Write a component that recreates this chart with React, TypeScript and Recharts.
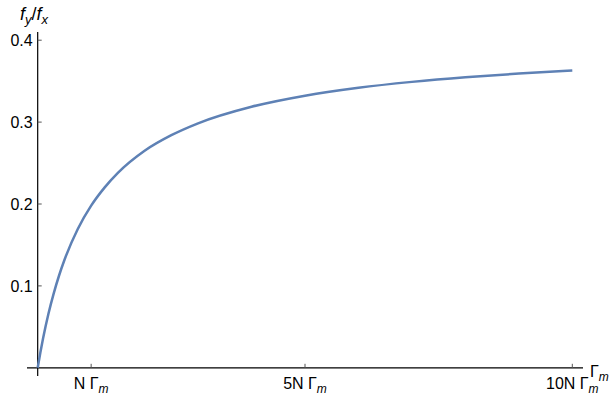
import { LineChart, Line, XAxis, YAxis, ReferenceLine } from "recharts";

const W = 609;
const H = 398;

// pumping rate, in units of N Γm
const rate = [0, 0.05, 0.1, 0.2, 0.3, 0.4, 0.5, 0.75, 1, 1.25, 1.5, 2, 2.5, 3, 4, 5, 6, 7, 8, 9, 10];
// force ratio f_y / f_x
const ratio = [
  0, 0.0187, 0.0357, 0.0656, 0.0909, 0.1127, 0.1316, 0.1695, 0.198, 0.22, 0.238,
  0.265, 0.284, 0.2985, 0.3187, 0.3322, 0.3419, 0.3491, 0.3548, 0.3593, 0.363,
];

const xTicks = [1, 5, 10];
const xTickLabels = ["N", "5N", "10N"];
const yTicks = [0.1, 0.2, 0.3, 0.4];

const data = rate.map((r, i) => ({ r, v: ratio[i] }));

const FONT = "'Liberation Sans', Arial, sans-serif";
const CURVE = "#5E81B5";
const AXIS = "#000";
const TICK = "#555";

// plot frame (the axes are drawn inside it through x=0 / y=0)
const PLOT = { left: 27, top: 32, right: 26, bottom: 22 };
const X_DOMAIN: [number, number] = [-0.2, 10.2];
const Y_DOMAIN: [number, number] = [-0.01, 0.41];
const plotW = W - PLOT.left - PLOT.right;
const plotH = H - PLOT.top - PLOT.bottom;
const ORIGIN_X = PLOT.left + ((0 - X_DOMAIN[0]) / (X_DOMAIN[1] - X_DOMAIN[0])) * plotW;
const ORIGIN_Y = PLOT.top + ((Y_DOMAIN[1] - 0) / (Y_DOMAIN[1] - Y_DOMAIN[0])) * plotH;

function XTick(props: any) {
  const { x, payload } = props;
  const i = xTicks.indexOf(payload.value);
  return (
    <g>
      <line x1={x} x2={x} y1={ORIGIN_Y} y2={ORIGIN_Y - 4} stroke={TICK} />
      <text x={x} y={ORIGIN_Y + 21} textAnchor="middle" fontFamily={FONT} fontSize={16} fill="#000">
        <tspan>{xTickLabels[i]} Γ</tspan>
        <tspan fontStyle="italic" fontSize={12} dy={4}>m</tspan>
      </text>
    </g>
  );
}

function YTick(props: any) {
  const { y, payload } = props;
  return (
    <g>
      <line x1={ORIGIN_X} x2={ORIGIN_X + 4} y1={y} y2={y} stroke={TICK} />
      <text x={ORIGIN_X - 5} y={y} dy="0.36em" textAnchor="end" fontFamily={FONT} fontSize={16} fill="#000">
        {payload.value}
      </text>
    </g>
  );
}

export default function App() {
  return (
    <div style={{ position: "absolute", left: 0, top: 0, width: W, height: H, background: "#fff" }}>
      <LineChart width={W} height={H} data={data} margin={{ left: 0, top: PLOT.top, right: PLOT.right, bottom: 0 }}>
        <XAxis
          dataKey="r"
          type="number"
          domain={X_DOMAIN}
          allowDataOverflow
          ticks={xTicks}
          interval={0}
          height={PLOT.bottom}
          axisLine={false}
          tickLine={false}
          tick={<XTick />}
        />
        <YAxis
          type="number"
          domain={Y_DOMAIN}
          allowDataOverflow
          ticks={yTicks}
          interval={0}
          width={PLOT.left}
          axisLine={false}
          tickLine={false}
          tick={<YTick />}
        />
        <ReferenceLine x={0} stroke={AXIS} strokeWidth={1.2} />
        <ReferenceLine y={0} stroke={AXIS} strokeWidth={1.2} />
        <Line
          type="monotone"
          dataKey="v"
          stroke={CURVE}
          strokeWidth={2.5}
          dot={false}
          isAnimationActive={false}
        />
      </LineChart>
      <svg width={W} height={H} style={{ position: "absolute", left: 0, top: 0, pointerEvents: "none" }}>
        <text x={20} y={20} fontFamily={FONT} fontSize={18} fill="#000">
          <tspan fontStyle="italic">f</tspan>
          <tspan fontStyle="italic" fontSize={13} dy={4}>y</tspan>
          <tspan dy={-4}>/</tspan>
          <tspan fontStyle="italic">f</tspan>
          <tspan fontStyle="italic" fontSize={13} dy={4}>x</tspan>
        </text>
        <text x={590} y={ORIGIN_Y + 9} fontFamily={FONT} fontSize={16} fill="#000">
          <tspan>Γ</tspan>
          <tspan fontStyle="italic" fontSize={12} dy={4}>m</tspan>
        </text>
      </svg>
    </div>
  );
}
